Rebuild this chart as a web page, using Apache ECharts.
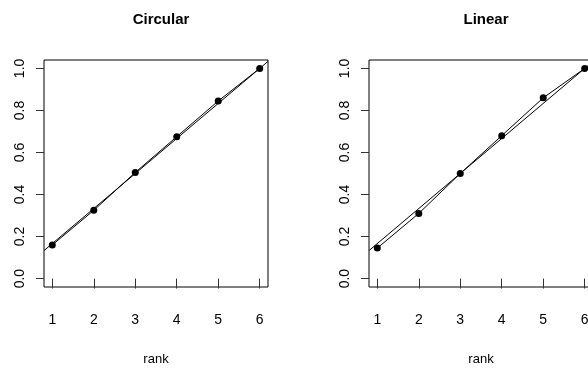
<!DOCTYPE html>
<html>
<head>
<meta charset="utf-8">
<script src="https://cdn.jsdelivr.net/npm/echarts@6/dist/echarts.min.js"></script>
<style>
  html, body { margin: 0; padding: 0; background: #fff; }
  #chart { width: 588px; height: 372px; }
</style>
</head>
<body>
<div id="chart"></div>
<script>
// rank on x, observed proportion on y
const ranks = [1, 2, 3, 4, 5, 6];
const circularVals = [0.16, 0.325, 0.505, 0.675, 0.845, 1.0];
const linearVals = [0.145, 0.31, 0.50, 0.68, 0.86, 1.0];
const panelTitles = ['Circular', 'Linear'];
const xTicks = [1, 2, 3, 4, 5, 6];
const yTicks = [0, 0.2, 0.4, 0.6, 0.8, 1.0];
const xLim = [0.8, 6.2];
const yLim = [-0.04, 1.04];
const refSlope = 1 / 6;   // reference line y = rank / 6

const font = 'Liberation Sans, Arial, Helvetica, sans-serif';
const chart = echarts.init(document.getElementById('chart'));

function pairs(xs, ys) {
  return xs.map((x, i) => [x, ys[i]]);
}
const refLine = [[xLim[0], xLim[0] * refSlope], [xLim[1], xLim[1] * refSlope]];

const grids = [
  { left: 44, top: 60, width: 224, height: 227 },
  { left: 369, top: 60, width: 224, height: 227 }
];

function xAxisFor(idx) {
  return {
    type: 'value', gridIndex: idx, min: xLim[0], max: xLim[1],
    name: 'rank', nameLocation: 'middle', nameGap: 66,
    nameTextStyle: { fontFamily: font, fontSize: 13, color: '#000' },
    axisLine: { show: false },
    axisTick: { show: true, length: 10, customValues: xTicks, lineStyle: { color: '#333' } },
    axisLabel: { customValues: xTicks, margin: 26, fontFamily: font, fontSize: 14, color: '#000' },
    splitLine: { show: false }
  };
}
function yAxisFor(idx) {
  return {
    type: 'value', gridIndex: idx, min: yLim[0], max: yLim[1],
    axisLine: { show: false },
    axisTick: { show: true, length: 8, customValues: yTicks, lineStyle: { color: '#333' } },
    axisLabel: {
      customValues: yTicks, rotate: 90, margin: 17,
      fontFamily: font, fontSize: 14, color: '#000',
      formatter: v => v.toFixed(1)
    },
    splitLine: { show: false }
  };
}

const pointStyle = {
  type: 'line', symbol: 'circle', symbolSize: 7, showSymbol: true,
  lineStyle: { color: '#000', width: 1 },
  itemStyle: { color: '#000' }
};
const refStyle = {
  type: 'line', symbol: 'none',
  lineStyle: { color: '#000', width: 1 }
};

let option = {
  animation: false,
  backgroundColor: '#fff',
  title: panelTitles.map((t, i) => ({
    text: t,
    left: i === 0 ? 156 : 481,
    top: 7,
    textAlign: 'center',
    textStyle: { fontFamily: font, fontSize: 15, fontWeight: 'bold', color: '#000' }
  })),
  grid: grids.map(g => Object.assign({
    show: true, borderColor: '#000', borderWidth: 1, backgroundColor: 'transparent',
    containLabel: false, outerBoundsMode: 'none'
  }, g)),
  xAxis: [xAxisFor(0), xAxisFor(1)],
  yAxis: [yAxisFor(0), yAxisFor(1)],
  series: [
    Object.assign({ xAxisIndex: 0, yAxisIndex: 0, data: refLine }, refStyle),
    Object.assign({ xAxisIndex: 0, yAxisIndex: 0, data: pairs(ranks, circularVals) }, pointStyle),
    Object.assign({ xAxisIndex: 1, yAxisIndex: 1, data: refLine }, refStyle),
    Object.assign({ xAxisIndex: 1, yAxisIndex: 1, data: pairs(ranks, linearVals) }, pointStyle)
  ]
};
chart.setOption(option);
</script>
</body>
</html>
